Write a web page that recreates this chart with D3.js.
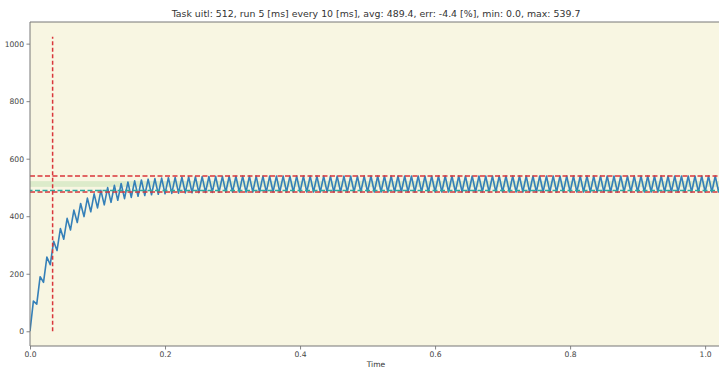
<!DOCTYPE html>
<html><head><meta charset="utf-8">
<script src="https://cdn.jsdelivr.net/npm/d3@7"></script>
<style>body{margin:0;background:#fff;} svg text{font-family:"DejaVu Sans",sans-serif;}</style>
</head><body><svg id="c" width="719" height="369"></svg>
<script>
const titleText = "Task uitl: 512, run 5 [ms] every 10 [ms], avg: 489.4, err: -4.4 [%], min: 0.0, max: 539.7";
const xLabel = "Time";
const xTicks = [0, 0.2, 0.4, 0.6, 0.8, 1.0];
const yTicks = [0, 200, 400, 600, 800, 1000];
const runTime = 0.005;     // 5 ms running
const periodTime = 0.010;  // every 10 ms
const startValue = 0;
const peaks = [
 105.1,189.7,257.9,312.8,357.0,392.5,421.2,444.3,462.9,477.8,
 489.9,499.6,507.4,513.7,518.8,522.8,526.1,528.8,530.9,532.6,
 534.0,535.1,536.0,536.7,537.3,537.8,538.1,538.4,538.7,538.9,
 539.0,539.2,539.3,539.3,539.4,539.4,539.5,539.5,539.5,539.6,
 539.6,539.6,539.6,539.6,539.6,539.6,539.6,539.6,539.6,539.6,
 539.7,539.7,539.7,539.7,539.7,539.7,539.7,539.7,539.7,539.7,
 539.7,539.7,539.7,539.7,539.7,539.7,539.7,539.7,539.7,539.7,
 539.7,539.7,539.7,539.7,539.7,539.7,539.7,539.7,539.7,539.7,
 539.7,539.7,539.7,539.7,539.7,539.7,539.7,539.7,539.7,539.7,
 539.7,539.7,539.7,539.7,539.7,539.7,539.7,539.7,539.7,539.7,
 539.7,539.7,539.7
];
const troughs = [
 94.3,170.3,231.4,280.7,320.3,352.2,378.0,398.7,415.4,428.8,
 439.6,448.3,455.3,461.0,465.5,469.2,472.1,474.5,476.4,477.9,
 479.2,480.2,481.0,481.6,482.1,482.6,482.9,483.2,483.4,483.6,
 483.7,483.8,483.9,484.0,484.0,484.1,484.1,484.1,484.2,484.2,
 484.2,484.2,484.2,484.2,484.2,484.2,484.2,484.2,484.2,484.2,
 484.3,484.3,484.3,484.3,484.3,484.3,484.3,484.3,484.3,484.3,
 484.3,484.3,484.3,484.3,484.3,484.3,484.3,484.3,484.3,484.3,
 484.3,484.3,484.3,484.3,484.3,484.3,484.3,484.3,484.3,484.3,
 484.3,484.3,484.3,484.3,484.3,484.3,484.3,484.3,484.3,484.3,
 484.3,484.3,484.3,484.3,484.3,484.3,484.3,484.3,484.3,484.3,
 484.3,484.3,484.3
];
const maxLine = 539.7;
const minLine = 484.3;
const avgLine = 489.4;
const tolBand = [502, 522];
const markerTime = 0.0335;
const markerRange = [0, 1024];
const xDomain = [0, 1.025];
const yDomain = [-51.2, 1075.2];

// build series
const series = [{t: 0, v: startValue}];
peaks.forEach((p, k) => {
  series.push({t: k * periodTime + runTime, v: p});
  series.push({t: (k + 1) * periodTime, v: troughs[k]});
});

const svg = d3.select("#c");
const L = 30, R = 722, T = 22, B = 346;
const x = d3.scaleLinear().domain(xDomain).range([L, R]);
const y = d3.scaleLinear().domain(yDomain).range([B, T]);

svg.append("rect").attr("width", 719).attr("height", 369).attr("fill", "#fff");
svg.append("defs").append("clipPath").attr("id", "clip")
  .append("rect").attr("x", L).attr("y", T).attr("width", R - L).attr("height", B - T);
svg.append("rect").attr("x", L).attr("y", T).attr("width", R - L).attr("height", B - T).attr("fill", "#f8f6e2");

const g = svg.append("g").attr("clip-path", "url(#clip)");
g.append("rect").attr("x", L).attr("width", R - L)
  .attr("y", y(tolBand[1])).attr("height", y(tolBand[0]) - y(tolBand[1]))
  .attr("fill", "#dcebca");

g.append("path").datum(series)
  .attr("fill", "none").attr("stroke", "#3580b8").attr("stroke-width", 1.6)
  .attr("stroke-linejoin", "round")
  .attr("d", d3.line().x(d => x(d.t)).y(d => y(d.v)));

const dash = "5,2.5";
function hline(v, color) {
  g.append("line").attr("x1", L).attr("x2", R).attr("y1", y(v)).attr("y2", y(v))
    .attr("stroke", color).attr("stroke-width", 1.5).attr("stroke-dasharray", dash);
}
hline(maxLine, "#d9363b");
hline(minLine, "#d9363b");
g.append("line").attr("x1", L).attr("x2", R).attr("y1", y(avgLine)).attr("y2", y(avgLine))
  .attr("stroke", "#2aa9a0").attr("stroke-width", 1.5).attr("stroke-dasharray", dash).attr("stroke-dashoffset", 2.5);
g.append("line").attr("x1", x(markerTime)).attr("x2", x(markerTime))
  .attr("y1", y(markerRange[0])).attr("y2", y(markerRange[1]))
  .attr("stroke", "#d9363b").attr("stroke-width", 1.5).attr("stroke-dasharray", "4,2.5");

// axes
const xAxis = d3.axisBottom(x).tickValues(xTicks).tickFormat(d3.format(".1f")).tickSize(3.5).tickPadding(2.5);
const yAxis = d3.axisLeft(y).tickValues(yTicks).tickFormat(d3.format("d")).tickSize(3.5).tickPadding(2.5);
const gx = svg.append("g").attr("transform", `translate(0,${B})`).call(xAxis);
const gy = svg.append("g").attr("transform", `translate(${L},0)`).call(yAxis);
[gx, gy].forEach(a => {
  a.select(".domain").remove();
  a.selectAll(".tick line").attr("stroke", "#666").attr("stroke-width", 0.8);
  a.selectAll(".tick text").attr("fill", "#444").style("font-size", "7.6px");
});

// spines (left, top, bottom)
svg.append("line").attr("x1", L).attr("x2", L).attr("y1", T).attr("y2", B).attr("stroke", "#777").attr("stroke-width", 1);
svg.append("line").attr("x1", L).attr("x2", R).attr("y1", T).attr("y2", T).attr("stroke", "#777").attr("stroke-width", 1);
svg.append("line").attr("x1", L).attr("x2", R).attr("y1", B).attr("y2", B).attr("stroke", "#777").attr("stroke-width", 1);

svg.append("text").attr("x", (L + R) / 2).attr("y", 17).attr("text-anchor", "middle")
  .attr("fill", "#333").style("font-size", "9.4px").text(titleText);
svg.append("text").attr("x", (L + R) / 2).attr("y", 367).attr("text-anchor", "middle")
  .attr("fill", "#333").style("font-size", "7.6px").text(xLabel);
</script></body></html>
